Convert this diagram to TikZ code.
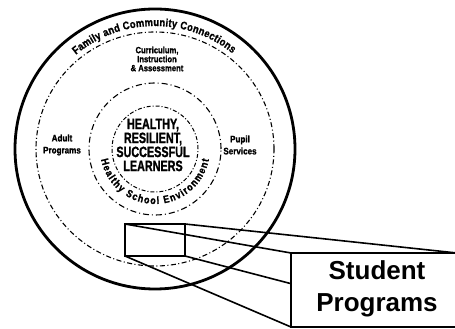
\documentclass[tikz,border=0pt]{standalone}
\usepackage{fontspec}
\setmainfont{Liberation Sans}
\newfontfamily\narrowfont[FakeStretch=0.72,FakeBold=1.2]{Liberation Sans}
\newfontfamily\midfont[FakeStretch=0.85,FakeBold=1.2]{Liberation Sans}
\usetikzlibrary{decorations.text}
\begin{document}
\begin{tikzpicture}[x=1pt,y=1pt,
  outerring/.style={line width=2.8pt},
  dashring/.style={line width=1.1pt, dash pattern=on 5pt off 2.5pt on 1pt off 2.5pt},
  conn/.style={line width=1.6pt},
  lbl/.style={align=center, inner sep=0pt, font=\midfont\bfseries\fontsize{9}{9}\selectfont},
  sidelbl/.style={align=center, inner sep=0pt, font=\midfont\bfseries\fontsize{9.5}{12}\selectfont},
]
\useasboundingbox (0,0) rectangle (455,329);
\coordinate (c) at (155,180);
% rings
\draw[outerring] (c) circle[radius=140];
\draw[dashring] (c) circle[x radius=119, y radius=117];
\draw[dashring, dash pattern=on 6pt off 3pt on 1pt off 3pt] (c) circle[radius=66];
\draw[dashring, line width=1pt, dash pattern=on 4pt off 2pt on 1pt off 2pt] (c) circle[radius=43];
% curved texts
\begin{scope}[shift={(c)}]
\path[decorate, decoration={text along path, text align=fit to path,
  text={|\midfont\bfseries\fontsize{11}{11}\selectfont|Family and Community Connections}}]
  (130:123) arc[start angle=130, end angle=51, radius=123];
\path[decorate, decoration={text along path, text align=fit to path,
  text={|\midfont\bfseries\fontsize{10.5}{11}\selectfont|Healthy School Environment}}]
  (191:55) arc[start angle=191, end angle=349, radius=55];
\end{scope}
% labels
\node[lbl] (cia) at (157,270) {Curriculum,\\Instruction\\\& Assessment};
\node[sidelbl] (adult) at (62,184) {Adult\\Programs};
\node[sidelbl] (pupil) at (240,184) {Pupil\\Services};
\node[align=center, inner sep=0pt, font=\narrowfont\bfseries\fontsize{15}{14}\selectfont] (core) at (153,184) {HEALTHY,\\RESILIENT,\\SUCCESSFUL\\LEARNERS};
% window and enlarged box
\node[draw, conn, minimum width=60pt, minimum height=32pt, inner sep=0pt, outer sep=0pt, anchor=north west] (win) at (125,105) {};
\node[minimum width=166pt, minimum height=74pt, inner sep=0pt, outer sep=0pt, anchor=north west] (box) at (291,76) {};
\node[align=center, inner sep=0pt, font=\bfseries\fontsize{26}{32}\selectfont] (sp) at (377,40) {Student\\Programs};
\coordinate (hid) at (intersection of win.south east--box.south east and box.north west--box.south west);
\draw[conn] (box.north east) -- (box.north west) -- (box.south west) -- (box.south east);
\draw[conn] (win.north west) -- (box.north west);
\draw[conn] (win.north east) -- (box.north east);
\draw[conn] (win.south west) -- (box.south west);
\draw[conn] (win.south east) -- (hid);
\end{tikzpicture}
\end{document}
